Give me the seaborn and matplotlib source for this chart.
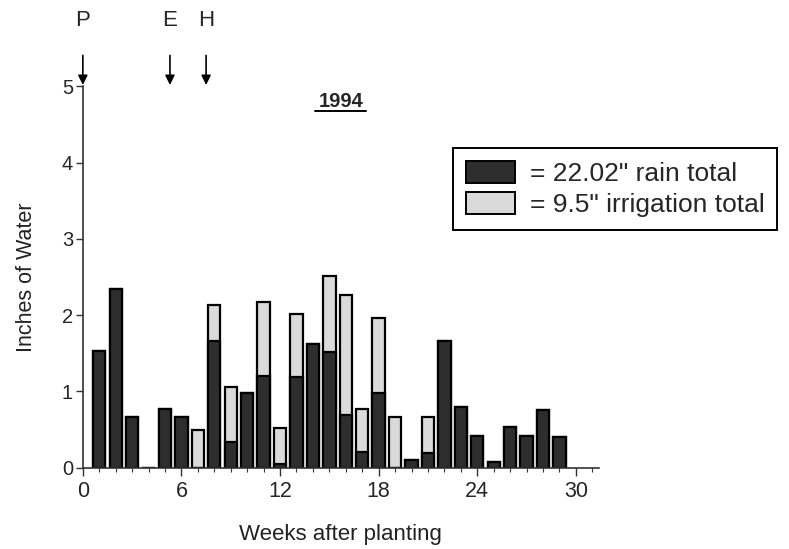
import matplotlib
matplotlib.use('Agg')
import matplotlib.pyplot as plt
from matplotlib.patches import Patch
from matplotlib.ticker import MultipleLocator
import seaborn as sns
import numpy as np

# Weekly water amounts (inches)
weeks = list(range(1, 30))
rain = [1.53, 2.34, 0.67, 0.0, 0.77, 0.67, 0.0, 1.66, 0.34, 0.98,
        1.20, 0.05, 1.19, 1.62, 1.52, 0.69, 0.20, 0.98, 0.0, 0.10,
        0.19, 1.66, 0.80, 0.41, 0.07, 0.54, 0.41, 0.76, 0.40]
irrigation = [0.0, 0.0, 0.0, 0.0, 0.0, 0.0, 0.49, 0.47, 0.72, 0.0,
              0.97, 0.47, 0.83, 0.0, 0.99, 1.57, 0.57, 0.98, 0.67, 0.0,
              0.47, 0.0, 0.0, 0.0, 0.0, 0.0, 0.0, 0.0, 0.0]
legend_labels = ['= 22.02" rain total', '= 9.5" irrigation total']
stage_labels = ['P', 'E', 'H']
stage_weeks = [0.0, 5.3, 7.5]

rain_color = '#2e2e2e'
irr_color = '#dadada'

sns.set_style('ticks')
plt.rcParams['font.family'] = ['Liberation Sans', 'DejaVu Sans']

total = np.array(rain) + np.array(irrigation)

fig, ax = plt.subplots(figsize=(7.89, 5.49), dpi=100)
fig.subplots_adjust(left=0.105, right=0.759, bottom=0.148, top=0.843)

# total bar drawn first (irrigation colour), rain drawn over it from zero
sns.barplot(x=weeks, y=total, native_scale=True, width=0.75, color=irr_color,
            saturation=1, edgecolor='black', linewidth=1.6, ax=ax)
sns.barplot(x=weeks, y=rain, native_scale=True, width=0.75, color=rain_color,
            saturation=1, edgecolor='black', linewidth=1.6, ax=ax)

ax.set_xlim(0, 31.4)
ax.set_ylim(0, 5)
ax.xaxis.set_major_locator(MultipleLocator(6))
ax.xaxis.set_minor_locator(MultipleLocator(1))
ax.set_yticks(range(0, 6))
ax.tick_params(axis='x', which='major', labelsize=15.5, length=6, width=1.0, color='#333333')
ax.tick_params(axis='y', which='major', labelsize=14.5, length=5, width=1.0,
               color='#333333', pad=2)
ax.tick_params(axis='x', which='minor', length=3, width=0.8, color='#333333')
sns.despine(ax=ax)
for side in ['left', 'bottom']:
    ax.spines[side].set_linewidth(1.2)
    ax.spines[side].set_color('#333333')

ax.set_xlabel('Weeks after planting', fontsize=16, labelpad=16, color='#222222')
ax.set_ylabel('Inches of Water', fontsize=15.5, labelpad=18, color='#222222')

# growth stage markers above the plot
for lab, wk in zip(stage_labels, stage_weeks):
    ax.annotate('', xy=(wk, 4.98), xytext=(wk, 5.44),
                arrowprops=dict(arrowstyle='-|>', color='black', lw=1.2,
                                mutation_scale=14), annotation_clip=False)
    ax.text(wk, 5.86, lab, ha='center', va='center', fontsize=16, clip_on=False)

ax.text(15.7, 4.8, '1994', ha='center', va='center', fontsize=14.5,
        fontweight='bold')
ax.plot([14.15, 17.25], [4.67, 4.67], color='black', lw=1.4)

handles = [Patch(facecolor=rain_color, edgecolor='black', linewidth=1.4),
           Patch(facecolor=irr_color, edgecolor='black', linewidth=1.4)]
leg = fig.legend(handles, legend_labels, loc='upper left',
                 bbox_to_anchor=(453 / 789, 1 - 148 / 549), fontsize=19,
                 frameon=True, fancybox=False, edgecolor='black', framealpha=1,
                 handlelength=1.85, handleheight=0.9, labelspacing=0.22,
                 borderpad=0.5, borderaxespad=0, handletextpad=0.55)
leg.get_frame().set_linewidth(1.4)

plt.savefig('out.png', dpi=100)
plt.close()
